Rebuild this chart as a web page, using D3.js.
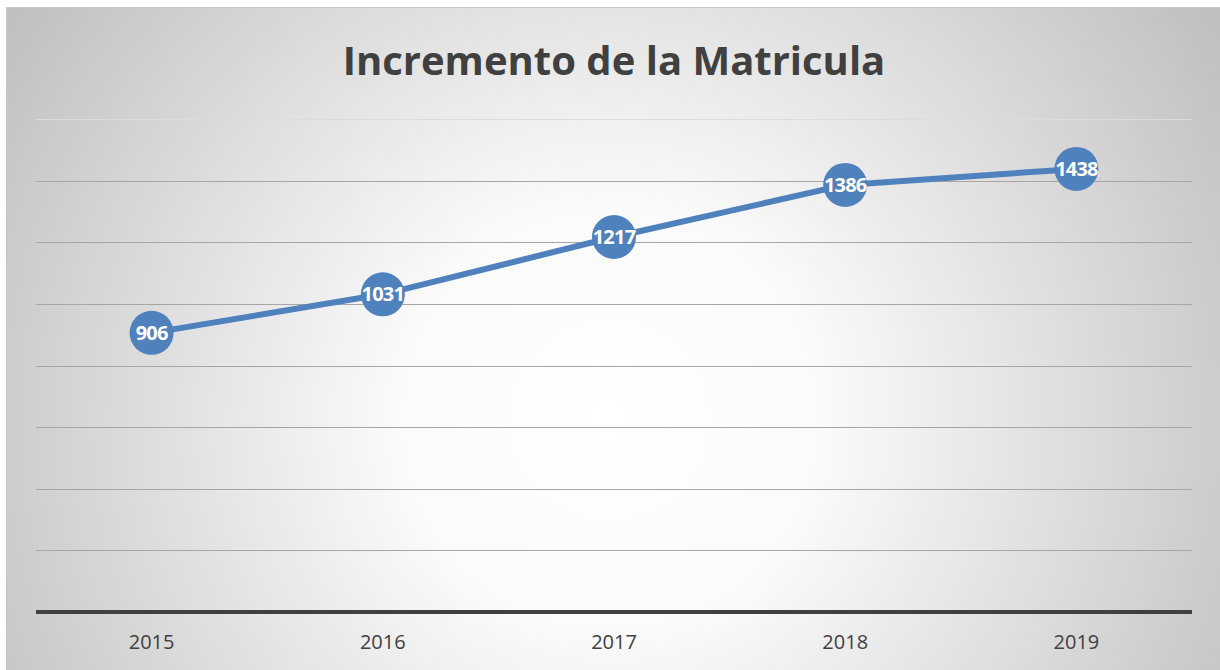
<!DOCTYPE html>
<html><head><meta charset="utf-8">
<script src="https://cdn.jsdelivr.net/npm/d3@7"></script>
<style>body{margin:0;background:#fff;}svg{display:block;}</style>
</head><body>
<svg id="c" width="1220" height="670"></svg>
<script>
const years = ["2015","2016","2017","2018","2019"];
const values = [906, 1031, 1217, 1386, 1438];
const yTicks = [0,200,400,600,800,1000,1200,1400,1600];
const title = "Incremento de la Matricula";

(function(){
const svg = d3.select("#c");
const defs = svg.append("defs");
const g = defs.append("radialGradient").attr("id","bg")
  .attr("gradientUnits","userSpaceOnUse").attr("cx",610).attr("cy",420).attr("r",720);
g.append("stop").attr("offset","0").attr("stop-color","#ffffff");
g.append("stop").attr("offset","0.3").attr("stop-color","#fafafa");
g.append("stop").attr("offset","1").attr("stop-color","#c0c0c0");

svg.append("rect").attr("x",6).attr("y",7).attr("width",1214).attr("height",663).attr("fill","url(#bg)");
svg.append("line").attr("x1",6).attr("x2",1220).attr("y1",7.5).attr("y2",7.5).attr("stroke","#c8c8c8");
svg.append("line").attr("x1",6.5).attr("x2",6.5).attr("y1",7).attr("y2",670).attr("stroke","#c8c8c8");

const pl = 36, pr = 1192, pt = 119, pb = 612;
const x = d3.scaleBand().domain(years).range([pl,pr]);
const y = d3.scaleLinear().domain([0,1600]).range([pb,pt]);

svg.append("g").selectAll("line").data(yTicks.filter(d=>d>0)).join("line")
  .attr("x1",pl).attr("x2",pr)
  .attr("y1",d=>Math.round(y(d))+0.5).attr("y2",d=>Math.round(y(d))+0.5)
  .attr("stroke",d=>d===1600?"#dcdcdc":"#a6a6a6").attr("stroke-width",1.2);

svg.append("line").attr("x1",pl).attr("x2",pr).attr("y1",y(0)).attr("y2",y(0))
  .attr("stroke","#404040").attr("stroke-width",4);

const xa = svg.append("g").attr("transform",`translate(0,${pb})`)
  .call(d3.axisBottom(x).tickSize(0).tickPadding(23));
xa.select(".domain").remove();
xa.selectAll("text").attr("font-family","'Open Sans', sans-serif").attr("font-size",20)
  .attr("fill","#404040").attr("dy","0.71em");

svg.append("text").attr("x",614).attr("y",75).attr("text-anchor","middle")
  .attr("font-family","'Open Sans', sans-serif").attr("font-weight",700).attr("font-size",40)
  .attr("fill","#404040").text(title);

const pts = years.map((yr,i)=>({yr, v:values[i]}));
const cx = d=>x(d.yr)+x.bandwidth()/2;
svg.append("path").datum(pts)
  .attr("d", d3.line().x(cx).y(d=>y(d.v)))
  .attr("fill","none").attr("stroke","#4f81bd").attr("stroke-width",6).attr("stroke-linejoin","round");

svg.append("g").selectAll("circle").data(pts).join("circle")
  .attr("cx",cx).attr("cy",d=>y(d.v)).attr("r",22).attr("fill","#4f81bd");

svg.append("g").selectAll("text").data(pts).join("text")
  .attr("x",cx).attr("y",d=>y(d.v)).attr("dy","0.35em").attr("text-anchor","middle")
  .attr("font-family","'Open Sans', sans-serif").attr("font-weight",700).attr("font-size",20)
  .attr("letter-spacing",-0.8)
  .attr("fill","#ffffff").text(d=>d.v);
})();
</script>
</body></html>
